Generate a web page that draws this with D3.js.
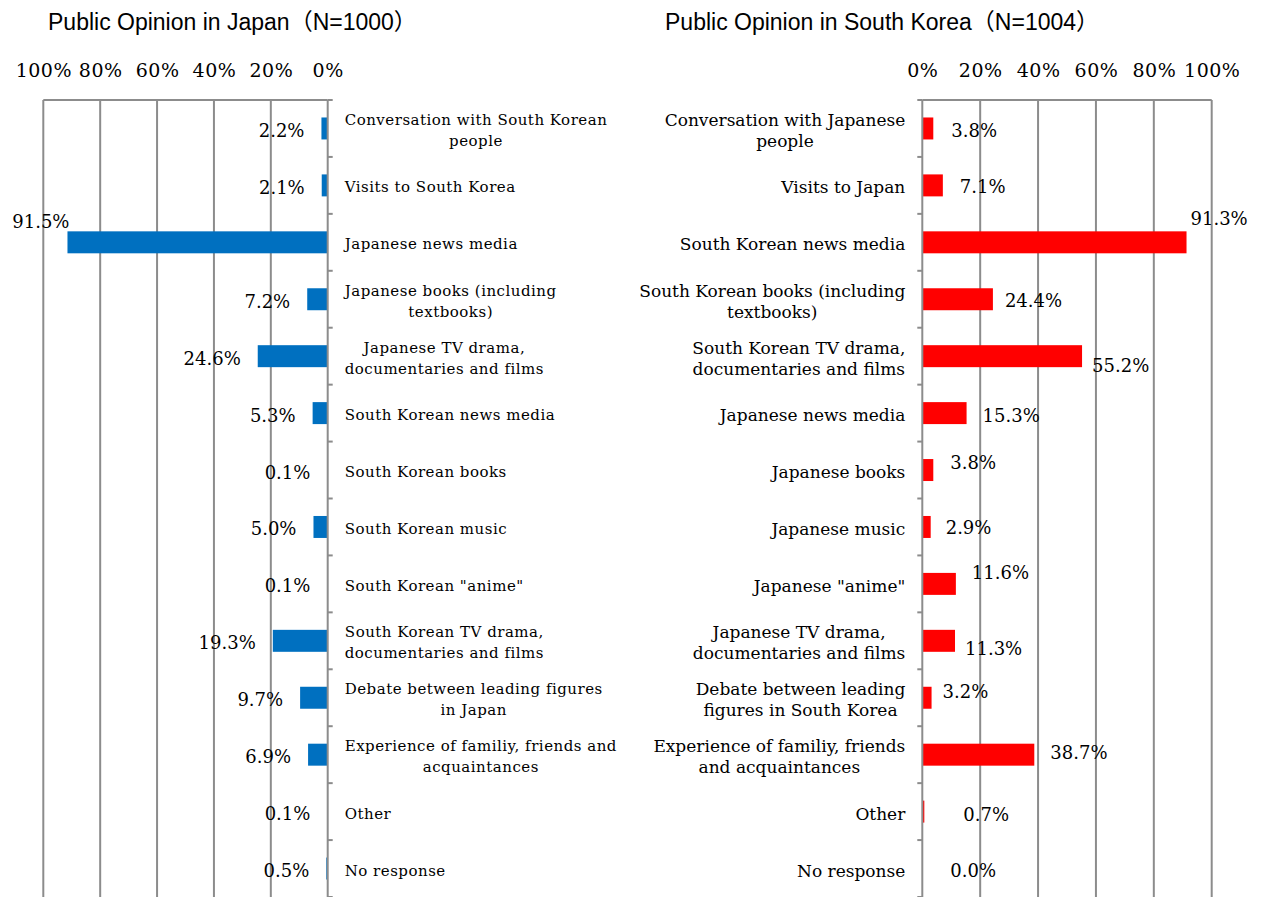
<!DOCTYPE html>
<html>
<head>
<meta charset="utf-8">
<script src="https://cdn.jsdelivr.net/npm/d3@7"></script>
<style>
  html, body { margin: 0; padding: 0; background: #ffffff; }
  svg { display: block; }
</style>
</head>
<body>
<svg id="chart" width="1263" height="897"></svg>
<script>
// Sources of impressions: Japan survey (left) and South Korea survey (right)
const japanTitle = "Public Opinion in Japan（N=1000）";
const koreaTitle = "Public Opinion in South Korea（N=1004）";

const japanCategories = [
  "Conversation with South Korean\npeople",
  "Visits to South Korea",
  "Japanese news media",
  "Japanese books (including\ntextbooks)",
  "Japanese TV drama,\ndocumentaries and films",
  "South Korean news media",
  "South Korean books",
  "South Korean music",
  "South Korean \"anime\"",
  "South Korean TV drama,\ndocumentaries and films",
  "Debate between leading figures\nin Japan",
  "Experience of familiy, friends and\nacquaintances",
  "Other",
  "No response"
];
const japanValues = [2.2, 2.1, 91.5, 7.2, 24.6, 5.3, 0.1, 5.0, 0.1, 19.3, 9.7, 6.9, 0.1, 0.5];

const koreaCategories = [
  "Conversation with Japanese\npeople",
  "Visits to Japan",
  "South Korean news media",
  "South Korean books (including\ntextbooks)",
  "South Korean TV drama,\ndocumentaries and films",
  "Japanese news media",
  "Japanese books",
  "Japanese music",
  "Japanese \"anime\"",
  "Japanese TV drama,\ndocumentaries and films",
  "Debate between leading\nfigures in South Korea",
  "Experience of familiy, friends\nand acquaintances",
  "Other",
  "No response"
];
const koreaValues = [3.8, 7.1, 91.3, 24.4, 55.2, 15.3, 3.8, 2.9, 11.6, 11.3, 3.2, 38.7, 0.7, 0.0];

const percentTicks = [0, 20, 40, 60, 80, 100];

// Data-label nudges [dx, dy] relative to the default spot beside each bar end
const japanLabelNudge = [[0,0],[0,0],[19,-23],[0,0],[0,0],[0,0],[0,0],[0,0],[0,0],[0,0],[0,0],[0,0],[0,0],[0,0]];
const koreaLabelNudge = [[1,0],[0,-1],[-13,-26],[-5,-1],[-7,7],[-1,0],[0,-10],[-2,-1],[-1,-13],[-7,6],[-6,-8],[-1,-4],[22,1],[11,0]];

const svg = d3.select("#chart");
const gridColor = "#8c8c8c";
const serif = "'DejaVu Serif', serif";
const sans = "'Liberation Sans', Arial, 'Noto Sans CJK JP', sans-serif";

const plotTop = 100, plotBottom = 897;

function drawPanel(opt) {
  const { categories, values, zeroX, fullX, color, title, titleX, side, nudges, catFont, catSpacing, catShift } = opt;
  const x = d3.scaleLinear().domain([0, 100]).range([zeroX, fullX]);
  const y = d3.scaleBand()
    .domain(d3.range(categories.length))
    .range([plotTop, plotBottom])
    .paddingInner(0.614)
    .paddingOuter(0.307);
  const step = y.step();
  const g = svg.append("g");

  // title
  g.append("text")
    .attr("x", titleX).attr("y", 30)
    .attr("font-family", sans).attr("font-size", 23).attr("fill", "#000")
    .text(title);

  // top value axis labels
  const axis = d3.axisTop(x)
    .tickValues(percentTicks).tickSize(0).tickPadding(0)
    .tickFormat(d => d + "%");
  const ax = g.append("g").attr("transform", "translate(0,77)").call(axis);
  ax.select(".domain").remove();
  ax.selectAll("text")
    .attr("font-family", serif).attr("font-size", 19).attr("fill", "#000")
    .attr("letter-spacing", 0.5)
    .attr("dy", 0);

  // vertical gridlines
  g.append("g").selectAll("line")
    .data(percentTicks.filter(d => d !== 0))
    .join("line")
    .attr("x1", d => x(d)).attr("x2", d => x(d))
    .attr("y1", plotTop).attr("y2", plotBottom)
    .attr("stroke", gridColor).attr("stroke-width", 2);

  // top border
  g.append("line")
    .attr("x1", x(0)).attr("x2", x(100))
    .attr("y1", plotTop).attr("y2", plotTop)
    .attr("stroke", gridColor).attr("stroke-width", 2);

  // bars
  g.append("g").selectAll("rect")
    .data(values)
    .join("rect")
    .attr("x", d => Math.min(x(0), x(d)))
    .attr("width", d => Math.abs(x(d) - x(0)))
    .attr("y", (d, i) => y(i))
    .attr("height", y.bandwidth())
    .attr("fill", color);

  // category axis line and ticks at row boundaries
  g.append("line")
    .attr("x1", x(0)).attr("x2", x(0))
    .attr("y1", plotTop).attr("y2", plotBottom)
    .attr("stroke", gridColor).attr("stroke-width", 2);
  const tickDir = side === "left" ? 1 : -1;
  g.append("g").selectAll("line")
    .data(d3.range(categories.length + 1))
    .join("line")
    .attr("x1", x(0)).attr("x2", x(0) + tickDir * 5)
    .attr("y1", k => plotTop + k * step).attr("y2", k => plotTop + k * step)
    .attr("stroke", gridColor).attr("stroke-width", 2);

  // category labels: centered lines inside a block anchored beside the axis
  const lineH = 21;
  categories.forEach((cat, i) => {
    const lines = cat.split("\n");
    const cy = y(i) + y.bandwidth() / 2;
    const tg = g.append("g");
    const texts = lines.map((ln, j) => tg.append("text")
      .attr("font-family", serif).attr("font-size", catFont).attr("fill", "#000")
      .attr("letter-spacing", catSpacing)
      .attr("text-anchor", "middle")
      .attr("y", cy + catShift + (j - (lines.length - 1) / 2) * lineH)
      .text(ln));
    const maxW = d3.max(texts, t => t.node().getComputedTextLength());
    const cx = side === "left" ? x(0) + 17 + maxW / 2 : x(0) - 17 - maxW / 2;
    texts.forEach(t => t.attr("x", cx));
  });

  // value labels
  g.append("g").selectAll("text")
    .data(values)
    .join("text")
    .attr("font-family", serif).attr("font-size", 18).attr("fill", "#000")
    .attr("text-anchor", side === "left" ? "end" : "start")
    .attr("x", (d, i) => x(d) + (side === "left" ? -17 : 17) + nudges[i][0])
    .attr("y", (d, i) => y(i) + y.bandwidth() / 2 + 8.5 + nudges[i][1])
    .text(d => d.toFixed(1) + "%");
}

drawPanel({
  categories: japanCategories, values: japanValues,
  zeroX: 327.7, fullX: 43.3, color: "#0070C0",
  title: japanTitle, titleX: 48, side: "left", nudges: japanLabelNudge,
  catFont: 15, catSpacing: 0.5, catShift: 7
});
drawPanel({
  categories: koreaCategories, values: koreaValues,
  zeroX: 922.3, fullX: 1211.7, color: "#FF0000",
  title: koreaTitle, titleX: 665, side: "right", nudges: koreaLabelNudge,
  catFont: 17, catSpacing: 0, catShift: 8
});
</script>
</body>
</html>
